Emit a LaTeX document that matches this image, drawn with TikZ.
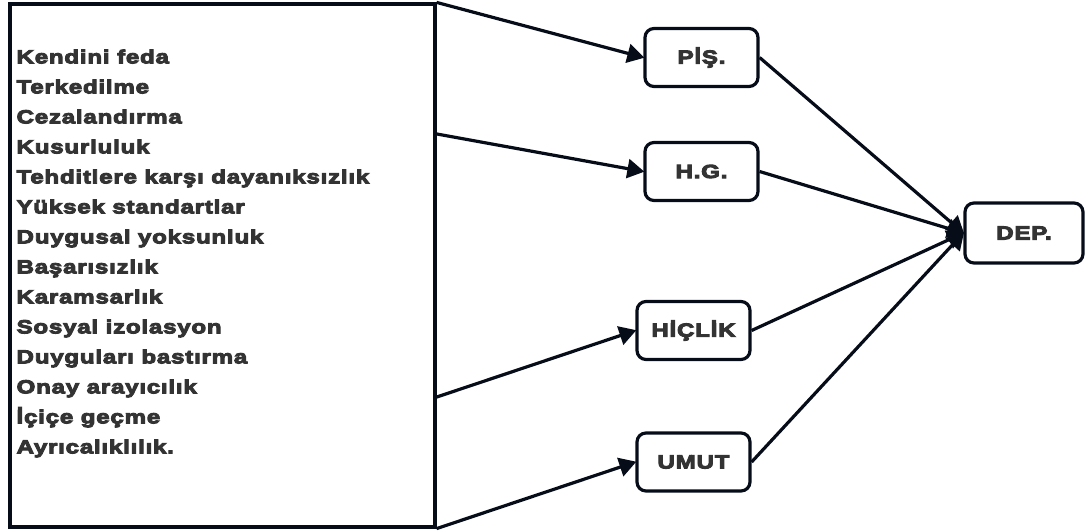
\documentclass[tikz,border=0pt]{standalone}
\usepackage{fontspec}
\setmainfont{Liberation Sans}[BoldFeatures={FakeBold=5,FakeStretch=1.27,LetterSpace=4}]
\usetikzlibrary{arrows.meta,calc}
\definecolor{ink}{RGB}{6,12,24}
\definecolor{txt}{RGB}{51,51,51}
\begin{document}
\begin{tikzpicture}[x=1pt,y=-1pt,
  line width=3.2pt,
  every node/.style={text=txt,font=\bfseries\fontsize{19}{30}\selectfont},
  varbox/.style={draw=ink,rounded corners=9pt,minimum width=113pt,minimum height=58pt,inner sep=0pt},
  link/.style={draw=ink,-{Triangle[length=17pt,width=19pt]},shorten >=-1pt}]
\useasboundingbox (0,0) rectangle (1088,531);
% schema list
\node[draw=ink,minimum width=425pt,minimum height=523pt,inner sep=0pt] (src) at (222.5,265.5) {};
\node[anchor=north west,align=left,inner sep=0pt] (list) at (15,48) {%
Kendini feda\\
Terkedilme\\
Cezalandırma\\
Kusurluluk\\
Tehditlere karşı dayanıksızlık\\
Yüksek standartlar\\
Duygusal yoksunluk\\
Başarısızlık\\
Karamsarlık\\
Sosyal izolasyon\\
Duyguları bastırma\\
Onay arayıcılık\\
İçiçe geçme\\
Ayrıcalıklılık.};
% mediators and outcome
\node[varbox] (pis) at (701.5,57.5) {PİŞ.};
\node[varbox] (hg) at (701.5,171.5) {H.G.};
\node[varbox] (hic) at (693.5,330.5) {HİÇLİK};
\node[varbox] (umut) at (693.5,462) {UMUT};
\node[varbox,minimum width=118pt,minimum height=60pt] (dep) at (1024,233) {DEP.};
% connectors
\coordinate (s1) at (src.north east);
\coordinate (s2) at ($(src.north east)!0.25!(src.south east)$);
\coordinate (s3) at ($(src.north east)!0.75!(src.south east)$);
\coordinate (s4) at (src.south east);
\draw[link] (s1) -- (pis.west);
\draw[link] (s2) -- (hg.west);
\draw[link] (s3) -- (hic.west);
\draw[link] (s4) -- (umut.west);
\draw[link] (pis.east) -- (dep.west);
\draw[link] (hg.east) -- (dep.west);
\draw[link] (hic.east) -- (dep.west);
\draw[link] (umut.east) -- (dep.west);
\end{tikzpicture}
\end{document}
